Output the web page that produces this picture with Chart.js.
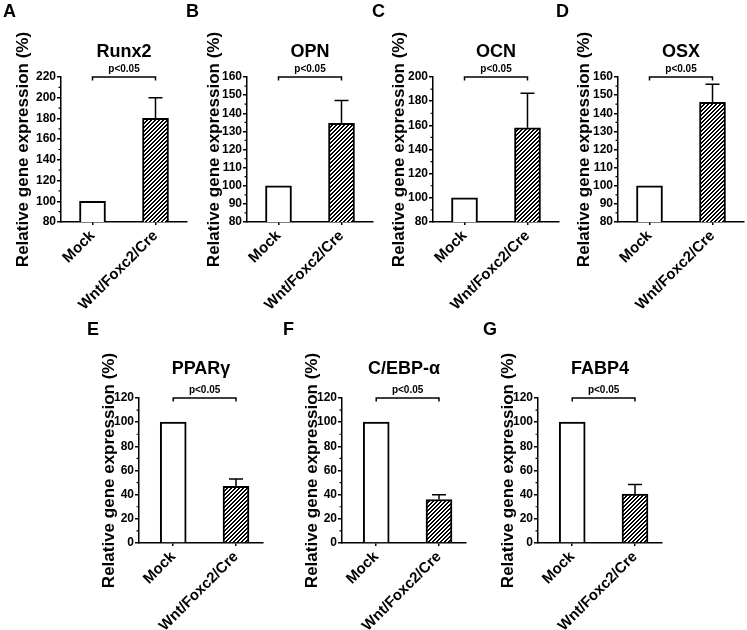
<!DOCTYPE html>
<html>
<head>
<meta charset="utf-8">
<script src="https://cdn.jsdelivr.net/npm/chart.js@4.4.1/dist/chart.umd.min.js"></script>
<style>
  body { margin: 0; background: #fff; }
  #wrap { position: relative; width: 747px; height: 630px; overflow: hidden; }
  #wrap canvas { position: absolute; }
  .letter { position: absolute; font: bold 18px 'Liberation Sans', Arial, sans-serif; line-height: 18px; color: #000; }
</style>
</head>
<body>
<div id="wrap"></div>
<script>
'use strict';

// data
var categories = ['Mock', 'Wnt/Foxc2/Cre'];
var genes = ['Runx2', 'OPN', 'OCN', 'OSX', 'PPARγ', 'C/EBP-α', 'FABP4'];
var letters = ['A', 'B', 'C', 'D', 'E', 'F', 'G'];
var mockValues = [100, 100, 100, 100, 100, 100, 100];
var wntValues = [180, 134.5, 158, 146, 47, 36, 40.5];
var wntErrors = [20, 12.5, 28.5, 10, 6, 4, 8];
var yMins = [80, 80, 80, 80, 0, 0, 0];
var yMaxs = [220, 160, 200, 160, 120, 120, 120];
var ySteps = [20, 10, 20, 10, 20, 20, 20];
var yMinorSteps = [10, 5, 10, 5, 10, 10, 10];
var pText = 'p<0.05';
var yLabel = 'Relative gene expression (%)';

// where each panel sits on the page
var row1 = {top: 0, h: 310, plotTop: 77, plotBottom: 222, titleY: 52, letterY: 2, xMin: -0.5, xMax: 1.5, len: 126};
var row2 = {top: 310, h: 320, plotTop: 398, plotBottom: 543, titleY: 369, letterY: 320, xMin: -0.545, xMax: 1.43, len: 124};
var panels = [
  {row: row1, axis: 61, yTitleX: 23, letterX: 3},
  {row: row1, axis: 247, yTitleX: 214, letterX: 186},
  {row: row1, axis: 433, yTitleX: 399, letterX: 372},
  {row: row1, axis: 618, yTitleX: 584, letterX: 556},
  {row: row2, axis: 139, yTitleX: 109, letterX: 87},
  {row: row2, axis: 342, yTitleX: 312, letterX: 283},
  {row: row2, axis: 538, yTitleX: 508, letterX: 483}
];

Chart.defaults.font.family = "'Liberation Sans', Arial, sans-serif";
Chart.defaults.color = '#000';

// crisp "////" hatch, two black pixels per row of a 4px tile
function makeHatch() {
  var c = document.createElement('canvas');
  c.width = 4; c.height = 4;
  var g = c.getContext('2d');
  g.fillStyle = '#fff';
  g.fillRect(0, 0, 4, 4);
  g.fillStyle = '#000';
  for (var row = 0; row < 4; row++) {
    g.fillRect((3 - row + 4) % 4, row, 1, 1);
    g.fillRect((4 - row) % 4, row, 1, 1);
  }
  return g.createPattern(c, 'repeat');
}

// error bars, minor ticks and the significance bracket
var sigPlugin = {
  id: 'sig',
  afterDatasetsDraw(chart, args, opts) {
    var ctx = chart.ctx, y = chart.scales.y;
    var meta = chart.getDatasetMeta(0);
    ctx.save();
    ctx.strokeStyle = '#000';
    ctx.lineWidth = 1.5;
    opts.errors.forEach(function (e, k) {
      if (!e) return;
      var bar = meta.data[k];
      var top = y.getPixelForValue(opts.values[k] + e);
      ctx.beginPath();
      ctx.moveTo(bar.x, bar.y);
      ctx.lineTo(bar.x, top);
      ctx.moveTo(bar.x - 7, top);
      ctx.lineTo(bar.x + 7, top);
      ctx.stroke();
    });
    ctx.restore();
  },
  afterDraw(chart, args, opts) {
    var ctx = chart.ctx, x = chart.scales.x, y = chart.scales.y;
    ctx.save();
    ctx.strokeStyle = '#000';
    ctx.lineWidth = 1.2;
    ctx.beginPath();
    for (var v = y.min; v <= y.max; v += opts.minor) {
      if ((v - y.min) % opts.major === 0) continue;
      var py = y.getPixelForValue(v);
      ctx.moveTo(y.right - 2.5, py);
      ctx.lineTo(y.right, py);
    }
    ctx.stroke();

    var yb = y.getPixelForValue(y.max);
    var x0 = x.getPixelForValue(0), x1 = x.getPixelForValue(1);
    ctx.lineWidth = 1.5;
    ctx.beginPath();
    ctx.moveTo(x0, yb + 3.5);
    ctx.lineTo(x0, yb);
    ctx.lineTo(x1, yb);
    ctx.lineTo(x1, yb + 3.5);
    ctx.stroke();
    ctx.fillStyle = '#000';
    ctx.font = "bold 10px 'Liberation Sans', Arial, sans-serif";
    ctx.textAlign = 'center';
    ctx.textBaseline = 'middle';
    ctx.fillText(opts.text, (x0 + x1) / 2, yb - 8);
    ctx.restore();
  }
};
Chart.register(sigPlugin);

var wrap = document.getElementById('wrap');
var hatch = makeHatch();

genes.forEach(function (gene, i) {
  var p = panels[i], r = p.row;
  var left = p.axis - 58;
  var width = p.axis + r.len + 3 - left;

  var cv = document.createElement('canvas');
  cv.width = width;
  cv.height = r.h;
  cv.style.left = left + 'px';
  cv.style.top = r.top + 'px';
  wrap.appendChild(cv);

  var lab = document.createElement('div');
  lab.className = 'letter';
  lab.textContent = letters[i];
  lab.style.left = p.letterX + 'px';
  lab.style.top = r.letterY + 'px';
  wrap.appendChild(lab);

  var values = [mockValues[i], wntValues[i]];
  var titleTop = r.titleY - r.top - 10.8;

  new Chart(cv, {
    type: 'bar',
    data: {
      datasets: [{
        data: categories.map(function (c, k) { return {x: k, y: values[k]}; }),
        backgroundColor: ['#fff', hatch],
        borderColor: '#000',
        borderWidth: 2,
        barThickness: 26
      }]
    },
    options: {
      responsive: false,
      animation: false,
      layout: {padding: {left: 0, right: 3, top: 0, bottom: 0}},
      plugins: {
        legend: {display: false},
        tooltip: {enabled: false},
        title: {
          display: true,
          text: gene,
          fullSize: false,
          color: '#000',
          font: {size: 18, weight: 'bold'},
          padding: {top: titleTop, bottom: r.plotTop - r.top - titleTop - 21.6}
        },
        sig: {
          values: values,
          errors: [0, wntErrors[i]],
          minor: yMinorSteps[i],
          major: ySteps[i],
          text: pText
        }
      },
      scales: {
        x: {
          type: 'linear',
          min: r.xMin,
          max: r.xMax,
          offset: false,
          bounds: 'data',
          afterBuildTicks: function (s) {
            s.ticks = categories.map(function (c, k) { return {value: k}; });
          },
          afterFit: function (s) { s.height = r.top + r.h - r.plotBottom; },
          grid: {offset: false, drawOnChartArea: false, color: '#000', lineWidth: 1.5, tickLength: 3},
          border: {color: '#000', width: 1.5},
          ticks: {
            callback: function (v) { return categories[v]; },
            font: {size: 15, weight: 'bold'},
            color: '#000',
            minRotation: 45,
            maxRotation: 45,
            autoSkip: false,
            padding: 2
          }
        },
        y: {
          min: yMins[i],
          max: yMaxs[i],
          afterFit: function (s) { s.width = 58; },
          grid: {drawOnChartArea: false, color: '#000', lineWidth: 1.5, tickLength: 4},
          border: {color: '#000', width: 1.5},
          ticks: {stepSize: ySteps[i], font: {size: 12, weight: 'bold'}, color: '#000', padding: 1},
          title: {
            display: true,
            text: yLabel,
            color: '#000',
            font: {size: 17, weight: 'bold'},
            padding: {top: p.yTitleX - left - 10.2, bottom: 0}
          }
        }
      }
    }
  });
});
</script>
</body>
</html>
